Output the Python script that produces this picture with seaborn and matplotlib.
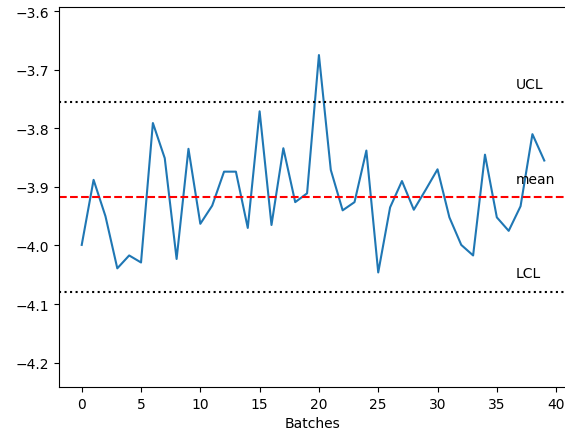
import matplotlib
matplotlib.use("Agg")
import matplotlib.pyplot as plt
import seaborn as sns
import numpy as np
import pandas as pd

batches = list(range(40))
values = [-3.999, -3.888, -3.950, -4.039, -4.017, -4.029, -3.791, -3.851, -4.023, -3.835,
          -3.963, -3.932, -3.874, -3.874, -3.970, -3.771, -3.965, -3.834, -3.926, -3.911,
          -3.675, -3.871, -3.940, -3.926, -3.838, -4.046, -3.935, -3.890, -3.939, -3.905,
          -3.870, -3.952, -3.999, -4.017, -3.845, -3.952, -3.975, -3.933, -3.810, -3.855]
mean_val = -3.9175
ucl = -3.7555
lcl = -4.0795
labels = ["UCL", "mean", "LCL"]

df = pd.DataFrame({"Batches": batches, "value": values})

fig = plt.figure(figsize=(5.65, 4.35), dpi=100)
W, H = 565, 435
ax = fig.add_axes([58.6 / W, (H - 388) / H, (567.4 - 58.6) / W, (388 - 8.3) / H])

sns.lineplot(data=df, x="Batches", y="value", ax=ax, color="#1f77b4", linewidth=1.5)
ax.axhline(mean_val, color="red", linestyle="--", linewidth=1.5)
ax.axhline(ucl, color="black", linestyle=":", linewidth=1.5)
ax.axhline(lcl, color="black", linestyle=":", linewidth=1.5)

for lab, yv in zip(labels, [ucl, mean_val, lcl]):
    ax.text(36.6, yv + 0.025, lab, fontsize=10)

half = ucl - mean_val
ax.set_ylim(mean_val - 2 * half, mean_val + 2 * half)
ax.set_xlim(-1.95, 40.95)
ax.set_xticks([0, 5, 10, 15, 20, 25, 30, 35, 40])
ax.set_yticks([-4.2, -4.1, -4.0, -3.9, -3.8, -3.7, -3.6])
ax.spines["right"].set_visible(False)
ax.set_xlabel("Batches")
ax.set_ylabel("")

fig.savefig("out.png", dpi=100)
